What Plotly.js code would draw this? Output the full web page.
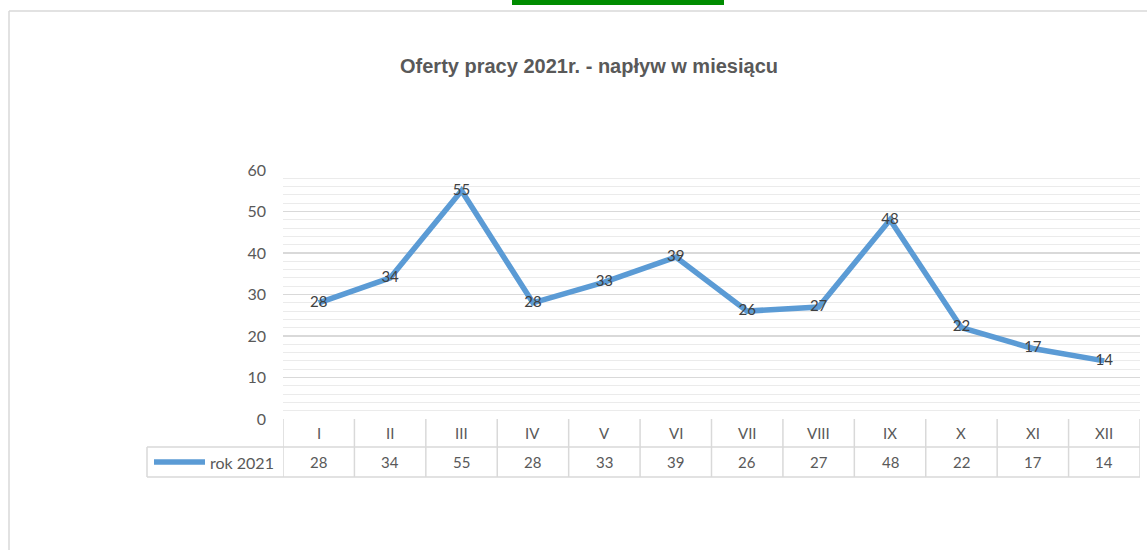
<!DOCTYPE html>
<html>
<head>
<meta charset="utf-8">
<script src="https://cdn.plot.ly/plotly-3.0.1.min.js"></script>
<style>
html,body{margin:0;padding:0;background:#fff;}
#chart{width:1147px;height:550px;}
</style>
</head>
<body>
<div id="chart"></div>
<script>
const categories = ["I","II","III","IV","V","VI","VII","VIII","IX","X","XI","XII"];
const seriesName = "rok 2021";
const values = [28,34,55,28,33,39,26,27,48,22,17,14];
const yTicks = [0,10,20,30,40,50,60];

const W = 1147, H = 550;
const L = 283, R = 1140, T = 170, B = 419;
const pw = R - L, ph = B - T;
const px = x => (x - L) / pw;
const py = y => (B - y) / ph;

const lineColor = "#5B9BD5";
const gridColor = "#D9D9D9";
const textColor = "#595959";
const font = "Lato, Open Sans, sans-serif";
const fs = 15;

const idx = categories.map((c, i) => i);

const trace = {
  x: idx,
  y: values,
  mode: "lines+text",
  text: values.map(String),
  textposition: "middle center",
  textfont: {family: font, size: fs, color: "#404040"},
  line: {color: lineColor, width: 5.5},
  name: seriesName,
  hoverinfo: "skip",
  cliponaxis: false
};

const shapes = [];
const annotations = [];

// outer frame + green tab
shapes.push({type:"line", xref:"paper", yref:"paper", x0:px(9), x1:px(W), y0:py(11), y1:py(11), line:{color:"#D9D9D9", width:1.5}});
shapes.push({type:"line", xref:"paper", yref:"paper", x0:px(9), x1:px(9), y0:py(11), y1:py(H), line:{color:"#D9D9D9", width:1.5}});
shapes.push({type:"rect", xref:"paper", yref:"paper", x0:px(512), x1:px(724), y0:py(0), y1:py(5), fillcolor:"#008C00", line:{width:0}});

// data table
const rowMid = 447, rowBot = 477;
const tableColor = "#D9D9D9";
shapes.push({type:"line", xref:"paper", yref:"paper", x0:px(147), x1:1, y0:py(rowMid), y1:py(rowMid), line:{color:tableColor, width:1.5}});
shapes.push({type:"line", xref:"paper", yref:"paper", x0:px(147), x1:1, y0:py(rowBot), y1:py(rowBot), line:{color:tableColor, width:1.5}});
shapes.push({type:"line", xref:"paper", yref:"paper", x0:px(147), x1:px(147), y0:py(rowMid), y1:py(rowBot), line:{color:tableColor, width:1.5}});
for (let i = 0; i <= categories.length; i++) {
  shapes.push({type:"line", xref:"x", yref:"paper", x0:i-0.5, x1:i-0.5, y0:0, y1:py(rowBot), line:{color:tableColor, width:1.5}});
}
categories.forEach((c, i) => {
  annotations.push({x:i, xref:"x", y:py(433), yref:"paper", text:c, showarrow:false, xanchor:"center", yanchor:"middle", font:{family:font, size:fs, color:textColor}});
  annotations.push({x:i, xref:"x", y:py(462), yref:"paper", text:String(values[i]), showarrow:false, xanchor:"center", yanchor:"middle", font:{family:font, size:fs, color:textColor}});
});
// legend key in table
shapes.push({type:"line", xref:"paper", yref:"paper", x0:px(154), x1:px(205), y0:py(462), y1:py(462), line:{color:lineColor, width:5.5}});
annotations.push({x:px(208), xref:"paper", y:py(462), yref:"paper", text:seriesName, showarrow:false, xanchor:"left", yanchor:"middle", font:{family:font, size:16, color:textColor}});

const layout = {
  width: W, height: H,
  margin: {l: L, r: W - R, t: T, b: H - B, pad: 0},
  paper_bgcolor: "#fff",
  plot_bgcolor: "#fff",
  showlegend: false,
  title: {
    text: "<b>Oferty pracy 2021r. - napływ w miesiącu</b>",
    x: 589 / W, xanchor: "center", xref: "container",
    y: 1 - 66 / H, yanchor: "middle", yref: "container",
    font: {family: "Liberation Sans", size: 20, color: textColor}
  },
  xaxis: {
    type: "linear",
    range: [-0.5, categories.length - 0.5],
    showgrid: false, zeroline: false, showticklabels: false, ticks: "",
    showline: false, fixedrange: true
  },
  yaxis: {
    range: [0, 60],
    tickvals: yTicks,
    ticktext: yTicks.map(String),
    showgrid: true, gridcolor: gridColor, gridwidth: 1.5,
    zeroline: false, showline: false, ticks: "",
    tickfont: {family: font, size: 16, color: textColor},
    ticklabelstandoff: 16,
    minor: {dtick: 2, showgrid: true, gridcolor: "#EBEBEB", gridwidth: 1},
    fixedrange: true
  },
  shapes: shapes,
  annotations: annotations
};

Plotly.newPlot("chart", [trace], layout, {displayModeBar: false, staticPlot: true});
</script>
</body>
</html>
